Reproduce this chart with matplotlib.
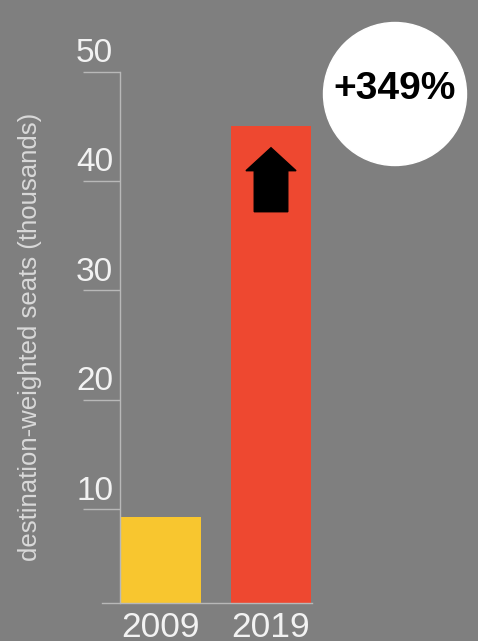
import matplotlib
matplotlib.use('Agg')
import matplotlib.pyplot as plt
from matplotlib.patches import FancyArrow, Ellipse

years = ['2009', '2019']
seats = [9.3, 45.0]          # thousands, as drawn
bar_colors = ['#f8c62f', '#ee4830']
yticks = [10, 20, 30, 40, 50]
change_label = '+349%'

bg = '#7f7f7f'
axis_col = '#b8b8b8'
plt.rcParams['font.family'] = ['Liberation Sans', 'DejaVu Sans']

fig = plt.figure(figsize=(4.78, 6.41), dpi=100, facecolor=bg)
ax = fig.add_axes([120 / 478, (641 - 603) / 641, 192 / 478, (603 - 71.7) / 641])
ax.set_facecolor(bg)

x = range(len(years))
ax.bar(x, seats, width=0.727, color=bar_colors, zorder=2)
ax.set_xlim(-0.3727, 1.3727)
ax.set_ylim(1.435, 50)

for s in ['top', 'right', 'bottom']:
    ax.spines[s].set_visible(False)
ax.spines['left'].set_color(axis_col)
ax.spines['left'].set_linewidth(1)

# baseline reaching a bit left of the axis
ax.plot([-0.095, 1.0], [0, 0], transform=ax.transAxes, color=axis_col,
        lw=1, clip_on=False, zorder=3)

ax.set_yticks(yticks)
ax.tick_params(axis='y', length=26.6, width=1, color=axis_col, labelleft=False)
for v in yticks:
    ax.annotate(str(v), xy=(0, v), xycoords=('axes fraction', 'data'),
                xytext=(-5, 7), textcoords='offset points',
                ha='right', va='baseline', fontsize=24, color='#f2f2f2')

ax.set_xticks(list(x))
ax.set_xticklabels(years, fontsize=25.5, color='#f2f2f2')
ax.tick_params(axis='x', length=0, pad=6)

ax.set_ylabel('destination-weighted seats (thousands)', fontsize=18.5, color='#d9d9d9')
ax.yaxis.set_label_coords(-0.405, 0.5)

# up arrow inside the 2019 bar
ax.add_patch(FancyArrow(1, 37.2, 0, 5.85, width=0.305, head_width=0.455,
                        head_length=2.1, length_includes_head=True,
                        color='black', zorder=4))

# circle badge
fig.patches.append(Ellipse((395 / 478, 1 - 94 / 641), 143 / 478, 143 / 641,
                           transform=fig.transFigure, color='white', zorder=5))
fig.text(395 / 478, 1 - 89 / 641, change_label, ha='center', va='center',
         fontsize=28, fontweight='bold', color='black', zorder=6)

fig.savefig('out.png', dpi=100, facecolor=bg)
